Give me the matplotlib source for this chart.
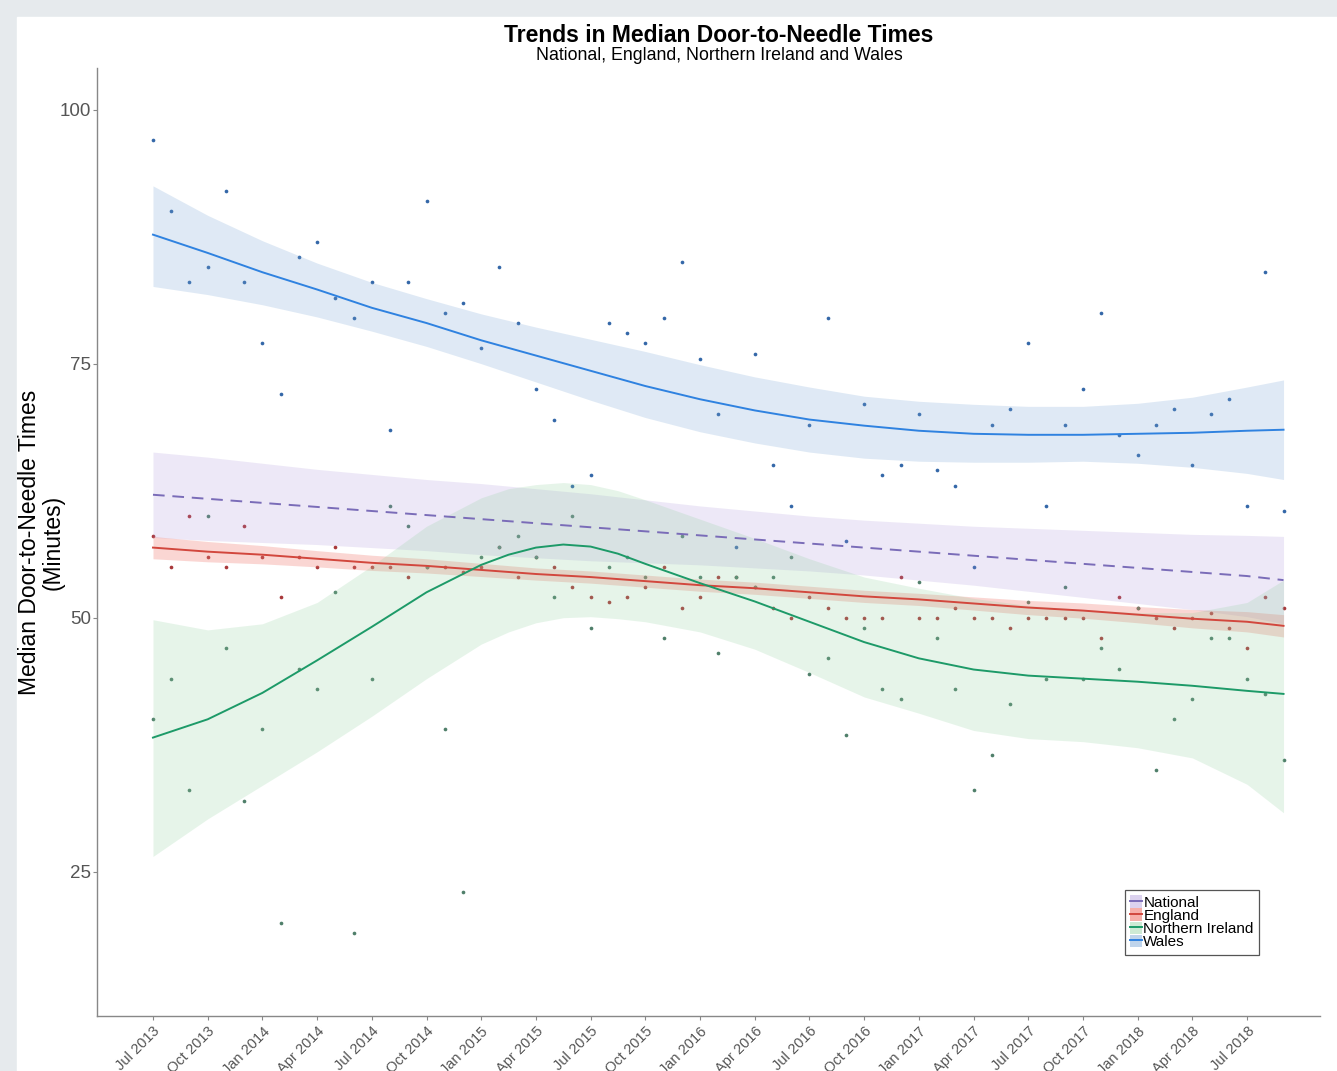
import numpy as np
import matplotlib
matplotlib.use("Agg")
from matplotlib import pyplot as plt
from matplotlib.patches import Patch, Rectangle
from matplotlib.lines import Line2D

plt.rcParams['font.family'] = ['Liberation Sans', 'DejaVu Sans']

# ---------------- data (monthly, Jul 2013 - Sep 2018) ----------------
months = np.arange(63)
tick_labels = ['Jul 2013', 'Oct 2013', 'Jan 2014', 'Apr 2014', 'Jul 2014', 'Oct 2014',
               'Jan 2015', 'Apr 2015', 'Jul 2015', 'Oct 2015', 'Jan 2016', 'Apr 2016',
               'Jul 2016', 'Oct 2016', 'Jan 2017', 'Apr 2017', 'Jul 2017', 'Oct 2017',
               'Jan 2018', 'Apr 2018', 'Jul 2018']

wales = [97, 90, 83, 84.5, 92, 83, 77, 72, 85.5, 87, 81.5, 79.5, 83, 68.5, 83, 91,
         80, 81, 76.5, 84.5, 79, 72.5, 69.5, 63, 64, 79, 78, 77, 79.5, 85, 75.5, 70,
         57, 76, 65, 61, 69, 79.5, 57.5, 71, 64, 65, 70, 64.5, 63, 55, 69, 70.5,
         77, 61, 69, 72.5, 80, 68, 66, 69, 70.5, 65, 70, 71.5, 61, 84, 60.5]
england = [58, 55, 60, 56, 55, 59, 56, 52, 56, 55, 57, 55, 55, 55, 54, 55,
           55, 54.5, 55, 57, 54, 56, 55, 53, 52, 51.5, 52, 53, 55, 51, 52, 54,
           54, 53, 51, 50, 52, 51, 50, 50, 50, 54, 50, 50, 51, 50, 50, 49,
           50, 50, 50, 50, 48, 52, 51, 50, 49, 50, 50.5, 49, 47, 52, 51]
n_ireland = [40, 44, 33, 60, 47, 32, 39, 20, 45, 43, 52.5, 19, 44, 61, 59, 55,
             39, 23, 56, 57, 58, 56, 52, 60, 49, 55, 56, 54, 48, 58, 54, 46.5,
             54, 53, 54, 56, 44.5, 46, 38.5, 49, 43, 42, 53.5, 48, 43, 33, 36.5, 41.5,
             51.5, 44, 53, 44, 47, 45, 51, 35, 40, 42, 48, 48, 44, 42.5, 36]

# smoothed trends (value, lower, upper) read at quarterly points
fit_months = [0, 3, 6, 9, 12, 15, 18, 21, 24, 27, 30, 33, 36, 39, 42, 45, 48, 51, 54, 57, 60, 62]
nat_fit = [62.1, 61.7, 61.3, 60.9, 60.5, 60.1, 59.7, 59.3, 58.9, 58.5, 58.1,
           57.7, 57.3, 56.9, 56.5, 56.1, 55.7, 55.3, 54.9, 54.5, 54.1, 53.7]
nat_hi = [66.3, 65.8, 65.2, 64.6, 64.1, 63.6, 63.2, 62.7, 62.2, 61.6, 61.0,
          60.5, 60.0, 59.6, 59.3, 59.0, 58.8, 58.6, 58.4, 58.2, 58.1, 58.0]
nat_lo = [57.9, 57.6, 57.4, 57.2, 56.9, 56.6, 56.2, 55.9, 55.6, 55.4, 55.2,
          54.9, 54.6, 54.2, 53.7, 53.2, 52.6, 52.0, 51.4, 50.8, 50.1, 49.4]
eng_fit = [56.9, 56.5, 56.2, 55.8, 55.4, 55.1, 54.7, 54.3, 54.0, 53.6, 53.2,
           52.9, 52.5, 52.1, 51.8, 51.4, 51.0, 50.7, 50.3, 49.9, 49.6, 49.2]
eng_hi = [58.0, 57.5, 57.1, 56.6, 56.15, 55.8, 55.35, 54.9, 54.6, 54.2, 53.8,
          53.5, 53.1, 52.7, 52.4, 52.05, 51.7, 51.45, 51.1, 50.8, 50.6, 50.3]
eng_lo = [55.8, 55.5, 55.3, 55.0, 54.65, 54.4, 54.05, 53.7, 53.4, 53.0, 52.6,
          52.3, 51.9, 51.5, 51.2, 50.75, 50.3, 49.95, 49.5, 49.0, 48.6, 48.1]
wal_fit = [87.7, 85.9, 84.0, 82.3, 80.5, 79.0, 77.3, 75.8, 74.3, 72.8, 71.5,
           70.4, 69.5, 68.9, 68.4, 68.1, 68.0, 68.0, 68.1, 68.2, 68.4, 68.5]
wal_hi = [92.5, 89.6, 87.1, 84.9, 83.0, 81.4, 79.9, 78.6, 77.4, 76.2, 74.9,
          73.7, 72.7, 71.8, 71.3, 71.0, 70.8, 70.8, 71.1, 71.7, 72.7, 73.4]
wal_lo = [82.6, 81.8, 80.8, 79.6, 78.2, 76.7, 75.0, 73.2, 71.4, 69.7, 68.3,
          67.2, 66.3, 65.7, 65.4, 65.3, 65.3, 65.4, 65.2, 64.8, 64.2, 63.6]

# Northern Ireland curve bends more, so it is read on a finer grid near the peak
ni_months = [0, 3, 6, 9, 12, 15, 18, 19.5, 21, 22.5, 24, 25.5, 27, 30, 33, 36, 39,
             42, 45, 48, 51, 54, 57, 60, 62]
ni_fit = [38.2, 40.0, 42.6, 45.8, 49.1, 52.5, 55.2, 56.2, 56.9, 57.2, 57.0, 56.3,
          55.3, 53.4, 51.6, 49.6, 47.6, 46.0, 44.9, 44.3, 44.0, 43.7, 43.3, 42.8, 42.5]
ni_hi = [49.8, 48.8, 49.4, 51.5, 55.1, 59.0, 61.8, 62.7, 63.1, 63.3, 63.1, 62.5,
         61.6, 59.7, 57.8, 55.8, 54.0, 52.9, 51.9, 51.2, 50.8, 50.5, 50.5, 51.5, 53.7]
ni_lo = [26.5, 30.2, 33.5, 36.8, 40.3, 44.0, 47.4, 48.6, 49.5, 50.0, 50.1, 49.9,
         49.6, 48.6, 46.9, 44.6, 42.2, 40.6, 38.9, 38.1, 37.8, 37.2, 36.2, 33.6, 30.8]

# ---------------- figure ----------------
W, H = 1337, 1071
fig = plt.figure(figsize=(W / 100, H / 100), dpi=100, facecolor='#e6eaed')
fig.patches.append(Rectangle((17 / W, 0), 1 - 17 / W, 1 - 17 / H,
                             transform=fig.transFigure, color='white', zorder=-10))
ax = fig.add_axes([97 / W, 55 / H, 1223 / W, 948 / H])
ax.set_facecolor('none')

# points
ax.scatter(months, wales, s=7, color='#3467a8', zorder=2, linewidths=0)
ax.scatter(months, england, s=7, color='#a8383a', zorder=2, linewidths=0)
ax.scatter(months, n_ireland, s=7, color='#4f7f6a', zorder=2, linewidths=0)

# ribbons + trend lines
series = [
    ('National', fit_months, nat_fit, nat_lo, nat_hi, '#7a6cb8', '#a88fd8', 0.2, (0, (6, 4))),
    ('England', fit_months, eng_fit, eng_lo, eng_hi, '#d2473d', '#f07a70', 0.3, '-'),
    ('Northern Ireland', ni_months, ni_fit, ni_lo, ni_hi, '#1d9a68', '#8fd19e', 0.22, '-'),
    ('Wales', fit_months, wal_fit, wal_lo, wal_hi, '#2f82e0', '#7aa6d6', 0.24, '-'),
]
handles = []
for name, xm, fit, lo, hi, lc, fc, a, ls in series:
    ax.fill_between(xm, lo, hi, color=fc, alpha=a, linewidth=0, zorder=3)
    ax.plot(xm, fit, color=lc, lw=1.4, ls=ls, zorder=4, solid_joinstyle='round')
    handles.append((Patch(facecolor=fc, alpha=min(a * 2, 1), edgecolor='none'),
                    Line2D([], [], color=lc, lw=1.4)))

ax.set_xlim(-3.07, 64.0)
ax.set_ylim(10.8, 104.1)
ax.set_xticks(np.arange(0, 61, 3))
ax.set_xticklabels(tick_labels, rotation=45, ha='right', rotation_mode='anchor',
                   fontsize=10.5, color='#555555')
ax.set_yticks([25, 50, 75, 100])
ax.set_yticklabels(['25', '50', '75', '100'], fontsize=13.5, color='#555555')
ax.tick_params(axis='both', length=3, color='#888888', width=0.8)
ax.tick_params(axis='y', pad=1)
ax.tick_params(axis='x', pad=3)
for s in ['top', 'right']:
    ax.spines[s].set_visible(False)
for s in ['left', 'bottom']:
    ax.spines[s].set_color('#888888')
    ax.spines[s].set_linewidth(1)

ax.set_ylabel('Median Door-to-Needle Times\n(Minutes)', fontsize=16.5,
              linespacing=1.0, labelpad=-3)

fig.text(719 / W, 1 - 36 / H, 'Trends in Median Door-to-Needle Times',
         ha='center', va='center', fontsize=16.5, fontweight='bold')
fig.text(719 / W, 1 - 56 / H, 'National, England, Northern Ireland and Wales',
         ha='center', va='center', fontsize=12.8)

leg = ax.legend(handles, [s[0] for s in series], loc='upper left',
                bbox_to_anchor=((1125 - 97) / 1223, (1016 - 890) / 948),
                fontsize=11, labelspacing=-0.1, handlelength=0.75, handleheight=0.9,
                handletextpad=0.1, borderpad=0.35, borderaxespad=0,
                fancybox=False, framealpha=1)
leg.get_frame().set_edgecolor('#555555')
leg.get_frame().set_linewidth(0.9)

fig.savefig('out.png', dpi=100, facecolor=fig.get_facecolor())
